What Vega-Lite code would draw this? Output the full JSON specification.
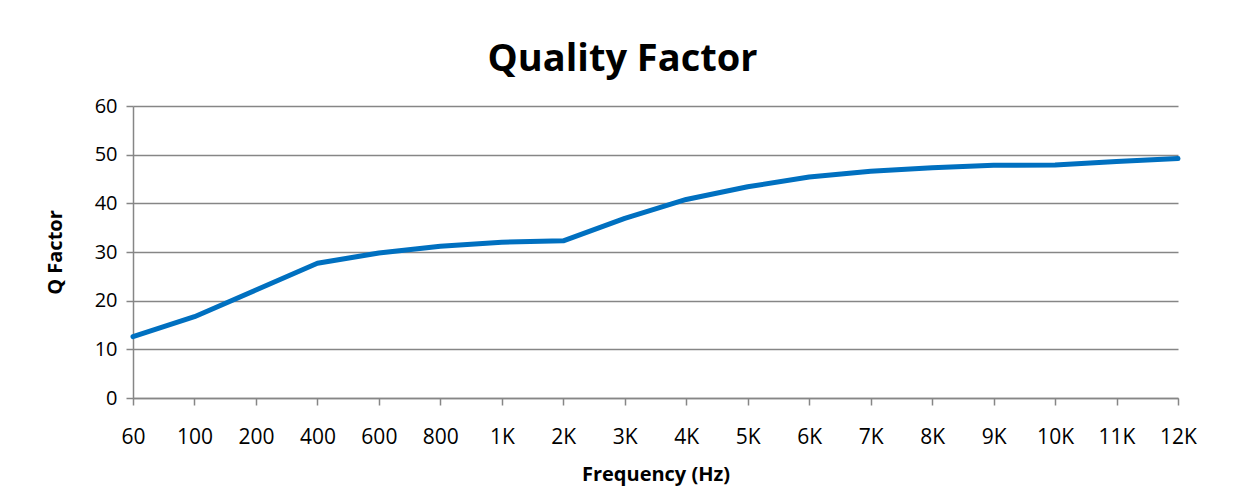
{
  "$schema": "https://vega.github.io/schema/vega-lite/v6.json",
  "width": 1045,
  "height": 292,
  "autosize": {"type": "none"},
  "padding": {"left": 133, "top": 106, "right": 65, "bottom": 106},
  "background": "white",
  "config": {
    "font": "Open Sans",
    "view": {"stroke": null},
    "axis": {
      "labelFont": "Open Sans",
      "titleFont": "Open Sans",
      "labelColor": "#000000",
      "titleFontSize": 20,
      "titleFontWeight": "bold",
      "titleColor": "#000000",
      "domainColor": "#868686",
      "tickColor": "#868686",
      "gridColor": "#868686",
      "gridWidth": 1.5,
      "domainWidth": 1.5,
      "tickWidth": 1.5,
      "tickSize": 7
    }
  },
  "title": {
    "text": "Quality Factor",
    "font": "Open Sans",
    "fontSize": 38,
    "fontWeight": "bold",
    "color": "#000000",
    "anchor": "middle",
    "dx": -33,
    "offset": 17
  },
  "data": {
    "values": [
      {"freq": "60", "q": 12.6},
      {"freq": "100", "q": 16.7},
      {"freq": "200", "q": 22.2},
      {"freq": "400", "q": 27.7},
      {"freq": "600", "q": 29.8},
      {"freq": "800", "q": 31.2},
      {"freq": "1K", "q": 32.0},
      {"freq": "2K", "q": 32.3},
      {"freq": "3K", "q": 36.9},
      {"freq": "4K", "q": 40.8},
      {"freq": "5K", "q": 43.4},
      {"freq": "6K", "q": 45.4},
      {"freq": "7K", "q": 46.6},
      {"freq": "8K", "q": 47.3},
      {"freq": "9K", "q": 47.8},
      {"freq": "10K", "q": 47.9},
      {"freq": "11K", "q": 48.6},
      {"freq": "12K", "q": 49.2}
    ]
  },
  "mark": {"type": "line", "color": "#0070C0", "strokeWidth": 5, "strokeCap": "round", "strokeJoin": "round"},
  "encoding": {
    "x": {
      "field": "freq",
      "type": "ordinal",
      "sort": null,
      "scale": {"type": "point", "padding": 0},
      "axis": {
        "title": "Frequency (Hz)",
        "labelAngle": 0,
        "labelFontSize": 21,
        "labelPadding": 21,
        "titlePadding": 17,
        "titleFontSize": 20,
        "grid": false
      }
    },
    "y": {
      "field": "q",
      "type": "quantitative",
      "scale": {"domain": [0, 60], "nice": false},
      "axis": {
        "title": "Q Factor",
        "values": [0, 10, 20, 30, 40, 50, 60],
        "labelFontSize": 20,
        "labelPadding": 9,
        "titlePadding": 29,
        "titleFontSize": 20,
        "grid": true
      }
    }
  }
}
